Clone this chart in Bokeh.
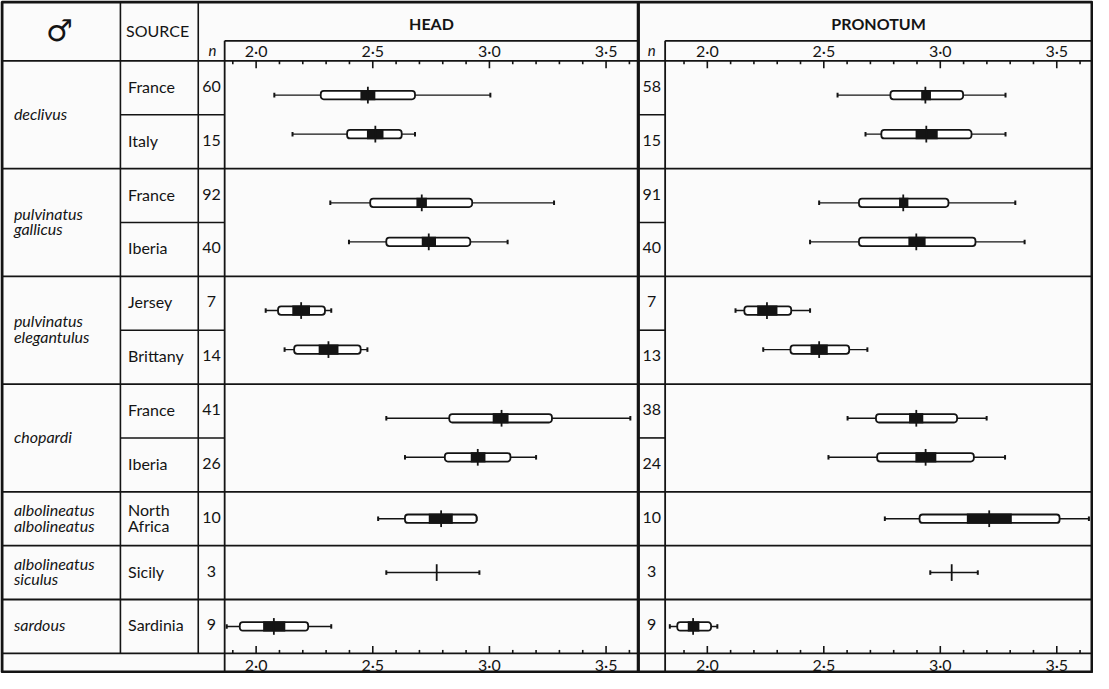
import numpy as np
from bokeh.plotting import figure
from bokeh.models import Range1d
from bokeh.embed import file_html
from bokeh.resources import INLINE
from bokeh.core.properties import value

# ---------------- data ----------------
species = [["declivus"], ["pulvinatus", "gallicus"], ["pulvinatus", "elegantulus"],
           ["chopardi"], ["albolineatus", "albolineatus"], ["albolineatus", "siculus"],
           ["sardous"]]
species_rows = [2, 2, 2, 2, 1, 1, 1]
sources = [["France"], ["Italy"], ["France"], ["Iberia"], ["Jersey"], ["Brittany"],
           ["France"], ["Iberia"], ["North", "Africa"], ["Sicily"], ["Sardinia"]]
n_head = [60, 15, 92, 40, 7, 14, 41, 26, 10, 3, 9]
n_pronotum = [58, 15, 91, 40, 7, 13, 38, 24, 10, 3, 9]

nan = float("nan")
# HEAD: range (min/max), box (mean +/- sd), black block (confidence limits), mean
head_min = [2.078, 2.156, 2.318, 2.398, 2.041, 2.122, 2.558, 2.638, 2.523, 2.558, 1.874]
head_box_lo = [2.277, 2.390, 2.489, 2.558, 2.094, 2.163, 2.828, 2.809, 2.638, nan, 1.930]
head_ci_lo = [2.447, 2.475, 2.687, 2.710, 2.155, 2.268, 3.014, 2.920, 2.740, nan, 2.030]
head_mean = [2.479, 2.511, 2.710, 2.740, 2.193, 2.310, 3.052, 2.950, 2.793, 2.774, 2.076]
head_ci_hi = [2.511, 2.546, 2.732, 2.771, 2.231, 2.353, 3.082, 2.983, 2.843, nan, 2.125]
head_box_hi = [2.681, 2.624, 2.926, 2.918, 2.295, 2.448, 3.268, 3.090, 2.945, nan, 2.223]
head_max = [3.004, 2.681, 3.277, 3.078, 2.322, 2.477, 3.604, 3.200, 2.945, 2.957, 2.322]

pron_min = [2.559, 2.679, 2.480, 2.441, 2.121, 2.240, 2.602, 2.520, 2.762, 2.957, 1.839]
pron_box_lo = [2.786, 2.747, 2.651, 2.651, 2.159, 2.357, 2.724, 2.729, 2.911, nan, 1.871]
pron_ci_lo = [2.918, 2.894, 2.823, 2.863, 2.214, 2.443, 2.866, 2.893, 3.114, nan, 1.916]
pron_mean = [2.936, 2.940, 2.841, 2.897, 2.256, 2.480, 2.897, 2.937, 3.210, 3.049, 1.939]
pron_ci_hi = [2.960, 2.989, 2.863, 2.937, 2.301, 2.517, 2.927, 2.983, 3.307, nan, 1.966]
pron_box_hi = [3.098, 3.134, 3.035, 3.151, 2.360, 2.609, 3.072, 3.144, 3.512, nan, 2.016]
pron_max = [3.280, 3.280, 3.322, 3.362, 2.441, 2.687, 3.199, 3.278, 3.638, 3.161, 2.043]

tick_values = [1.9, 2.0, 2.1, 2.2, 2.3, 2.4, 2.5, 2.6, 2.7, 2.8, 2.9,
               3.0, 3.1, 3.2, 3.3, 3.4, 3.5, 3.6]
tick_major = [2.0, 2.5, 3.0, 3.5]
tick_labels = ["2·0", "2·5", "3·0", "3·5"]

# ---------------- layout (table units) ----------------
INK = "#141414"
BG = "#fbfbfb"
FONT = "Lato"
W, H = 1093, 673
LX0, LX1, LY0, LY1 = 2.5, 1103.5, 2.5, 687.5
X_L, X_R, Y_T, Y_B = 4, 1102, 4, 686
X_SPEC, X_SRC, X_N, X_MID, X_PN = 123.3, 201.7, 228.3, 645, 672
Y_BOXTOP, Y_HDR, Y_FOOT = 43.5, 64, 667

p = figure(width=W, height=H, x_range=Range1d(LX0, LX1), y_range=Range1d(LY1, LY0),
           output_backend="svg", toolbar_location=None, min_border=0,
           x_axis_type=None, y_axis_type=None, background_fill_color=BG,
           border_fill_color=BG, outline_line_color=None)


def cal_range(px_a, px_b, va=2.0, vb=3.5):
    k = (vb - va) / (px_b - px_a)
    return Range1d(va + (LX0 - px_a) * k, va + (LX1 - px_a) * k)


p.extra_x_ranges = {"head": cal_range(260, 612.5), "pron": cal_range(714.5, 1066.5)}

nrows = len(sources)
rh = (Y_FOOT - Y_HDR) / nrows
row_mid = [Y_HDR + (i + 0.5) * rh for i in range(nrows)]

mark_y, group_bounds, sub_bounds, group_mid = [], [], [], []
i = 0
for span in species_rows:
    c = Y_HDR + (i + span / 2) * rh
    group_mid.append(c)
    if span == 2:
        mark_y += [c - 0.365 * rh, c + 0.36 * rh]
        sub_bounds.append(Y_HDR + (i + 1) * rh)
    else:
        mark_y.append(c)
    i += span
    if i < nrows:
        group_bounds.append(Y_HDR + i * rh)

# ---------------- table lines ----------------
def lines(x0, y0, x1, y1, w):
    p.segment(x0=x0, y0=y0, x1=x1, y1=y1, line_color=INK, line_width=w)

full_h = [Y_HDR] + group_bounds + [Y_FOOT]
lines([X_L] * len(full_h), full_h, [X_R] * len(full_h), full_h, 1.8)
lines([X_SPEC] * len(sub_bounds), sub_bounds, [X_N] * len(sub_bounds), sub_bounds, 1.6)
lines([X_MID] * len(sub_bounds), sub_bounds, [X_PN] * len(sub_bounds), sub_bounds, 1.6)
lines([X_N, X_PN], [Y_BOXTOP] * 2, [X_MID, X_R], [Y_BOXTOP] * 2, 1.8)
lines([X_SPEC, X_SRC], [Y_T, Y_T], [X_SPEC, X_SRC], [Y_FOOT, Y_FOOT], 1.6)
lines([X_N, X_PN], [Y_BOXTOP, Y_BOXTOP], [X_N, X_PN], [Y_B, Y_B], 1.8)
lines([X_MID], [Y_T], [X_MID], [Y_B], 3.2)
p.quad(left=[X_L], right=[X_R], top=[Y_T], bottom=[Y_B], fill_color=None,
       line_color=INK, line_width=3)

# ---------------- panels ----------------
def draw_panel(rng, mn, lo, cil, mean, cih, hi, mx):
    y = np.array(mark_y)
    mn, lo, cil, mean, cih, hi, mx = map(np.array, (mn, lo, cil, mean, cih, hi, mx))
    p.segment(x0=mn, y0=y, x1=mx, y1=y, x_range_name=rng, line_color=INK, line_width=1.4)
    p.segment(x0=mn, y0=y - 2.3, x1=mn, y1=y + 2.3, x_range_name=rng, line_color=INK, line_width=2)
    p.segment(x0=mx, y0=y - 2.3, x1=mx, y1=y + 2.3, x_range_name=rng, line_color=INK, line_width=2)
    p.quad(left=lo, right=hi, top=y - 4.3, bottom=y + 4.3, x_range_name=rng,
           fill_color="white", line_color=INK, line_width=1.8, border_radius=3)
    p.quad(left=cil, right=cih, top=y - 5.2, bottom=y + 5.2, x_range_name=rng,
           fill_color=INK, line_color=None)
    p.segment(x0=mean, y0=y - 8.5, x1=mean, y1=y + 8.5, x_range_name=rng,
              line_color=INK, line_width=1.8)

    tv = np.array(tick_values)
    major = np.isin(np.round(tv, 2), tick_major)
    ln = np.where(major, 7.5, 3.5)
    p.segment(x0=tv, y0=[Y_HDR] * len(tv), x1=tv, y1=Y_HDR + ln, x_range_name=rng,
              line_color=INK, line_width=1.6)
    p.segment(x0=tv, y0=[Y_FOOT] * len(tv), x1=tv, y1=Y_FOOT - ln, x_range_name=rng,
              line_color=INK, line_width=1.6)
    for yy in (53.5, 678.5):
        p.text(x=tick_major, y=[yy] * len(tick_major), text=tick_labels, x_range_name=rng,
               text_align="center", text_baseline="middle", text_font=value(FONT),
               text_font_size="16px", text_color=INK)


draw_panel("head", head_min, head_box_lo, head_ci_lo, head_mean, head_ci_hi, head_box_hi, head_max)
draw_panel("pron", pron_min, pron_box_lo, pron_ci_lo, pron_mean, pron_ci_hi, pron_box_hi, pron_max)

# ---------------- texts ----------------
def txt(x, y, t, size="16px", align="left", style="normal", font=FONT):
    p.text(x=x, y=y, text=t, text_align=align, text_baseline="middle",
           text_font=value(font), text_font_size=size, text_font_style=style,
           text_color=INK)

# species names
sx, sy, st = [], [], []
for names, c in zip(species, group_mid):
    k = len(names)
    for j, nm in enumerate(names):
        sx.append(16)
        sy.append(c - 1.5 + (j - (k - 1) / 2) * 16)
        st.append(nm)
txt(sx, sy, st, style="italic")

# sources
ox, oy, ot = [], [], []
for names, c in zip(sources, row_mid):
    k = len(names)
    for j, nm in enumerate(names):
        ox.append(131)
        oy.append(c - 1.5 + (j - (k - 1) / 2) * 16)
        ot.append(nm)
txt(ox, oy, ot)

ym = [c - 1.5 for c in row_mid]
txt([215] * nrows, ym, [str(v) for v in n_head], align="center")
txt([658.5] * nrows, ym, [str(v) for v in n_pronotum], align="center")

# header
txt([62], [33], ["♂"], size="30px", align="center", style="bold", font="DejaVu Sans")
txt([129], [33], ["SOURCE"], size="16px")
txt([216], [53], ["n"], size="15px", align="center", style="italic")
txt([658.5], [53], ["n"], size="15px", align="center", style="italic")
txt([(X_N + X_MID) / 2], [26], ["HEAD"], size="16px", align="center", style="bold")
txt([(X_PN + X_R) / 2], [26], ["PRONOTUM"], size="16px", align="center", style="bold")

open("out.html", "w").write(file_html(p, INLINE))
